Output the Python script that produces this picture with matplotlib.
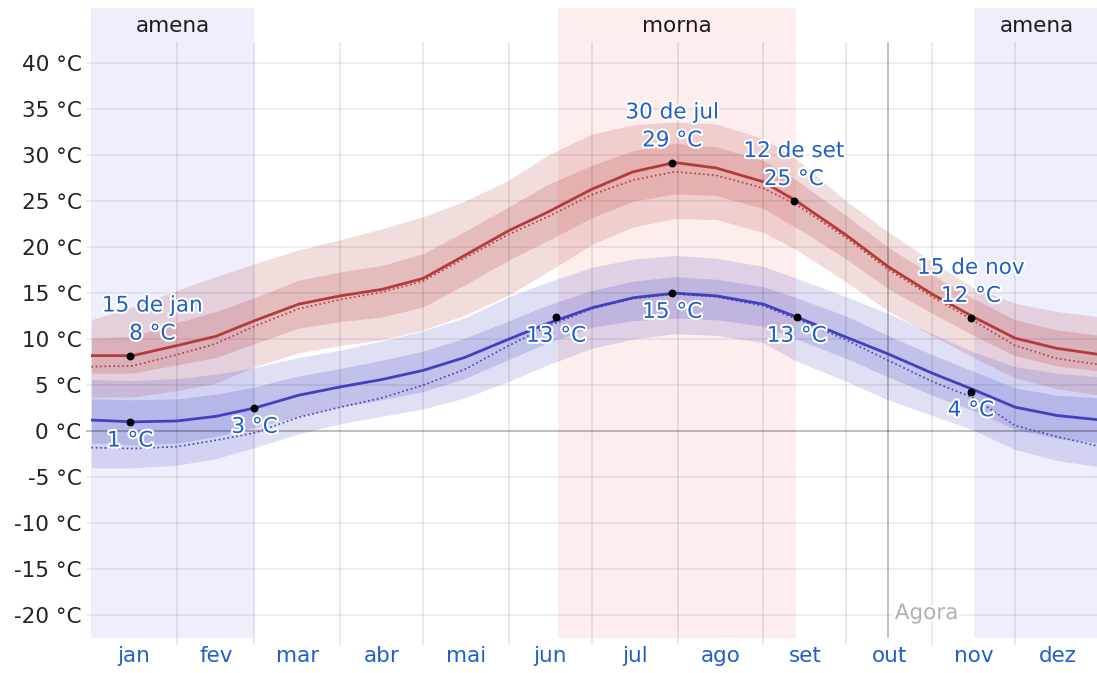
import numpy as np
import matplotlib.pyplot as plt
import matplotlib.patheffects as pe

# dias do ano (0 = 1 de jan) onde os valores foram lidos
days = [0, 15, 31, 45, 59, 75, 90, 105, 120, 135, 151, 165, 181,
        196, 211, 226, 243, 255, 273, 288, 304, 319, 334, 349, 365]

# temperatura maxima: media, percentis 10/25/75/90 e sensacao termica
high_mean = [8.2, 8.2, 9.3, 10.3, 12.0, 13.8, 14.7, 15.4, 16.6, 19.1, 21.8, 23.8, 26.3,
             28.2, 29.2, 28.6, 27.1, 25.0, 21.3, 17.9, 14.9, 12.4, 10.1, 9.0, 8.3]
high_feels = [7.0, 7.1, 8.3, 9.5, 11.4, 13.3, 14.3, 15.1, 16.3, 18.8, 21.4, 23.3, 25.7,
              27.3, 28.2, 27.8, 26.4, 24.6, 21.0, 17.6, 14.6, 12.0, 9.3, 7.9, 7.2]
high_p90 = [12.1, 13.5, 15.3, 16.8, 18.2, 19.7, 20.8, 22.0, 23.3, 25.0, 27.3, 30.0, 32.3,
            33.3, 33.6, 33.4, 31.8, 29.6, 25.0, 21.7, 18.4, 15.6, 13.9, 13.0, 12.4]
high_p75 = [10.1, 10.3, 11.8, 13.0, 14.5, 16.4, 17.3, 18.0, 19.3, 21.7, 24.4, 26.8, 28.9,
            30.5, 31.3, 30.9, 29.4, 27.3, 23.4, 20.0, 17.0, 14.4, 12.1, 11.0, 10.4]
high_p25 = [6.3, 6.3, 7.2, 8.0, 9.5, 11.2, 11.9, 12.4, 13.5, 15.9, 18.6, 20.7, 23.2,
            25.0, 25.8, 25.6, 24.2, 22.1, 18.7, 15.5, 12.8, 10.4, 8.2, 7.1, 6.5]
high_p10 = [3.7, 3.7, 4.4, 5.2, 7.0, 8.5, 9.3, 9.9, 11.0, 12.6, 14.8, 17.3, 20.3,
            22.2, 23.1, 23.0, 21.6, 19.7, 16.2, 13.1, 10.4, 8.0, 5.8, 4.6, 3.9]

# temperatura minima
low_mean = [1.2, 1.0, 1.1, 1.6, 2.5, 3.9, 4.8, 5.6, 6.6, 8.0, 10.0, 11.7, 13.4,
            14.5, 15.0, 14.7, 13.8, 12.4, 10.2, 8.4, 6.3, 4.5, 2.6, 1.7, 1.2]
low_feels = [-1.8, -1.9, -1.7, -1.0, -0.2, 1.5, 2.6, 3.6, 5.0, 6.7, 9.3, 11.4, 13.3,
             14.4, 14.9, 14.6, 13.6, 12.2, 9.9, 7.7, 5.4, 3.6, 0.6, -0.6, -1.7]
low_p90 = [5.6, 5.5, 5.7, 6.2, 6.9, 8.0, 8.8, 9.8, 10.9, 12.3, 14.6, 16.2, 17.8,
           18.7, 19.1, 18.8, 17.9, 16.6, 14.6, 12.8, 10.6, 8.6, 7.0, 6.3, 5.9]
low_p75 = [3.5, 3.4, 3.5, 4.0, 4.8, 6.0, 6.8, 7.7, 8.7, 10.1, 12.0, 13.7, 15.3,
           16.3, 16.8, 16.5, 15.7, 14.5, 12.5, 10.4, 8.3, 6.5, 4.7, 3.9, 3.6]
low_p25 = [-1.3, -1.5, -1.3, -0.6, 0.4, 1.6, 2.6, 3.4, 4.3, 5.7, 7.8, 9.6, 11.3,
           12.0, 12.3, 12.1, 11.4, 10.0, 7.9, 5.9, 3.9, 2.2, 0.2, -0.8, -1.3]
low_p10 = [-4.0, -4.0, -3.7, -3.0, -1.8, -0.3, 0.8, 1.6, 2.4, 3.6, 5.4, 7.2, 9.0,
           10.0, 10.6, 10.4, 9.6, 7.6, 5.4, 3.4, 1.7, 0.1, -2.0, -3.2, -3.9]

# pontos destacados
high_pts_day = [14, 210, 254, 318]
high_pts_val = [8.2, 29.2, 25.0, 12.3]
high_pts_txt = ['15 de jan\n8 °C', '30 de jul\n29 °C', '12 de set\n25 °C', '15 de nov\n12 °C']
low_pts_day = [14, 59, 168, 210, 255, 318]
low_pts_val = [1.0, 2.5, 12.4, 15.0, 12.4, 4.3]
low_pts_txt = ['1 °C', '3 °C', '13 °C', '15 °C', '13 °C', '4 °C']

month_starts = [0, 31, 59, 90, 120, 151, 181, 212, 243, 273, 304, 334]
month_mid = [15.5, 45, 74.5, 105, 135.5, 166, 196.5, 227.5, 258, 288.5, 319, 349.5]
month_names = ['jan', 'fev', 'mar', 'abr', 'mai', 'jun', 'jul', 'ago', 'set', 'out', 'nov', 'dez']

# estacoes: (inicio, fim, nome, cor)
seasons = [(0, 59, 'amena', '#eeeefd'), (168.7, 254.8, 'morna', '#fdeded'),
           (319.1, 365, 'amena', '#eeeefd')]
now_day = 288
yticks = list(range(-20, 45, 5))

red = '#b53a3a'
blue = '#4040c0'
fs = 15.5

fig = plt.figure(figsize=(10.97, 6.73), dpi=100)
W, H = 1097, 673
ax = fig.add_axes([91.3 / W, (H - 638) / H, (1100.8 - 91.3) / W, 630 / H])
ax.set_xlim(0, 365)
ax.set_ylim(-22.5, 46)
for s in ax.spines.values():
    s.set_visible(False)

for a, b, name, col in seasons:
    ax.text((a + b) / 2, 44.0, name, ha='center', va='center', fontsize=fs, color='#1a1a1a')
    ax.axvspan(a, b, color=col, lw=0, zorder=0)

# grade (por cima das faixas, semi-transparente)
ax.hlines(yticks, -1.9, 365, color='black', alpha=0.07, lw=1.3, zorder=2.5, clip_on=False)
ax.hlines(0, -1.9, 365, color='black', alpha=0.2, lw=1.5, zorder=2.5, clip_on=False)
ax.vlines(month_starts[1:], -23.3, 42.3, color='black', alpha=0.09, lw=1.3, zorder=2.5,
          clip_on=False)
ax.vlines(now_day, -22.5, 42.3, color='black', alpha=0.26, lw=1.3, zorder=2.5)
ax.text(now_day + 2.5, -19.8, 'Agora', ha='left', va='center', fontsize=fs, color='#b0b0b0',
        path_effects=[pe.withStroke(linewidth=3, foreground='white')], zorder=6)

# faixas
ax.fill_between(days, high_p10, high_p90, color=red, alpha=0.17, lw=0, zorder=2)
ax.fill_between(days, high_p25, high_p75, color=red, alpha=0.20, lw=0, zorder=2)
ax.fill_between(days, low_p10, low_p90, color=blue, alpha=0.16, lw=0, zorder=2)
ax.fill_between(days, low_p25, low_p75, color=blue, alpha=0.19, lw=0, zorder=2)

ax.plot(days, high_feels, color=red, lw=1.2, ls=':', zorder=3)
ax.plot(days, low_feels, color=blue, lw=1.2, ls=':', zorder=3)
ax.plot(days, high_mean, color=red, lw=2.0, zorder=4)
ax.plot(days, low_mean, color=blue, lw=2.0, zorder=4)

ax.scatter(high_pts_day + low_pts_day, high_pts_val + low_pts_val, s=22, color='black', zorder=5)

halo = [pe.withStroke(linewidth=3, foreground='white')]
for d, v, t in zip(high_pts_day, high_pts_val, high_pts_txt):
    dx = 16 if d < 30 else 0
    ax.annotate(t, (d, v), xytext=(dx, 26), textcoords='offset points', ha='center', va='center',
                fontsize=fs, color='#1f5fcc', linespacing=1.5, path_effects=halo, zorder=6)
for d, v, t in zip(low_pts_day, low_pts_val, low_pts_txt):
    ax.annotate(t, (d, v), xytext=(0, -13.5), textcoords='offset points', ha='center',
                va='center', fontsize=fs, color='#1f5fcc', path_effects=halo, zorder=6)

ax.set_yticks(yticks)
ax.set_yticklabels([f'{v} °C' for v in yticks], fontsize=fs, color='#222222')
ax.set_xticks(month_mid)
ax.set_xticklabels(month_names, fontsize=fs, color='#1f5fcc')
ax.tick_params(axis='y', length=0, pad=7)
ax.tick_params(axis='x', length=0, pad=6)

fig.savefig('out.png', dpi=100)
